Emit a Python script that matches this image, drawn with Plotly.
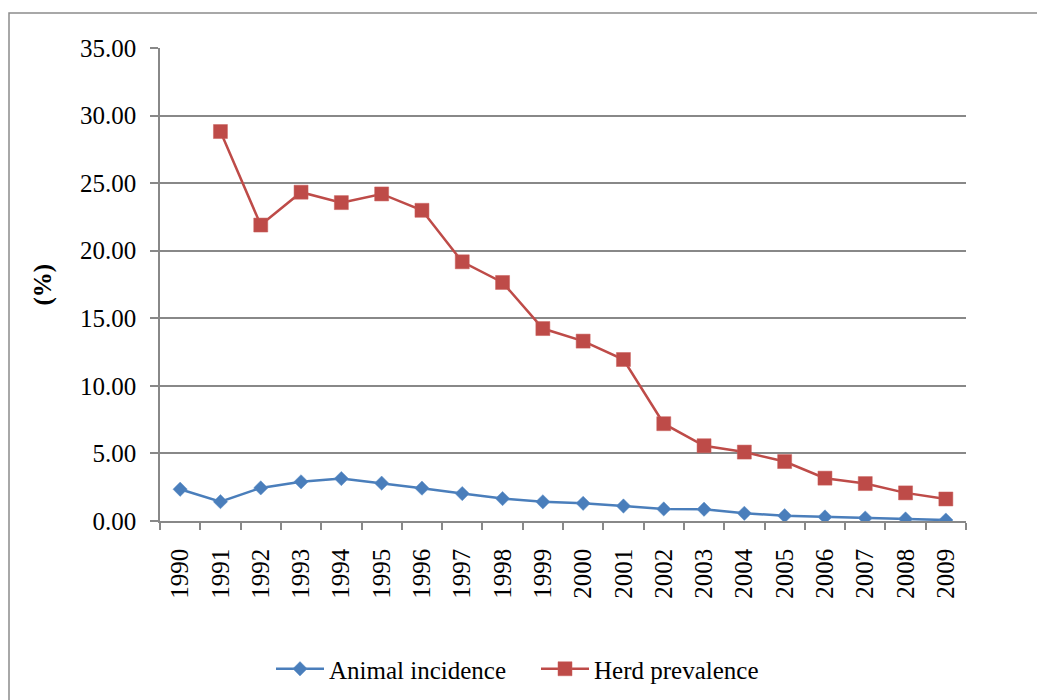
import plotly.graph_objects as go

years = [str(y) for y in range(1990, 2010)]
animal_incidence = [2.35, 1.43, 2.45, 2.90, 3.14, 2.80, 2.43, 2.03, 1.66, 1.42,
                    1.31, 1.11, 0.89, 0.87, 0.57, 0.39, 0.30, 0.22, 0.15, 0.07]
herd_years = years[1:]
herd_prevalence = [28.82, 21.90, 24.33, 23.56, 24.20, 22.99, 19.18, 17.65, 14.24,
                   13.31, 11.95, 7.20, 5.57, 5.10, 4.40, 3.17, 2.77, 2.08, 1.63]
y_ticks = [0, 5, 10, 15, 20, 25, 30, 35]

W, H = 1037, 700
L, R, T, B = 160, 966, 48, 521
pw, ph = R - L, B - T

def px(x):
    return (x - L) / pw

def py(y):
    return (B - y) / ph

FONT = "Liberation Serif, Times New Roman, serif"
GRID = "#888888"

fig = go.Figure()
fig.add_trace(go.Scatter(
    x=years, y=animal_incidence, name="Animal incidence", mode="lines+markers",
    line=dict(color="#4A7EBB", width=2.5),
    marker=dict(symbol="diamond", size=11, color="#4A7EBB",
                line=dict(color="#5B8CC7", width=0.5)),
))
fig.add_trace(go.Scatter(
    x=herd_years, y=herd_prevalence, name="Herd prevalence", mode="lines+markers",
    line=dict(color="#BE4B48", width=2.5),
    marker=dict(symbol="square", size=14, color="#BE4B48",
                line=dict(color="#C95E5B", width=0.5)),
))

fig.update_layout(
    width=W, height=H,
    margin=dict(l=L, r=W - R, t=T, b=H - B, pad=0, autoexpand=False),
    paper_bgcolor="white", plot_bgcolor="white",
    font=dict(family=FONT, size=25, color="black"),
    showlegend=True,
    legend=dict(orientation="h", x=px(271), xanchor="left", y=py(669), yanchor="middle",
                font=dict(family=FONT, size=25, color="black"),
                traceorder="normal", itemwidth=48, entrywidth=202),
    xaxis=dict(
        type="category", categoryorder="array", categoryarray=years,
        range=[-0.5, 19.5], tickson="boundaries",
        showgrid=False, showline=True, linecolor=GRID, linewidth=1.5,
        ticks="outside", ticklen=7, tickcolor=GRID, tickwidth=1.5,
        tickangle=-90, tickfont=dict(family=FONT, size=25),
        ticklabelstandoff=16, automargin=False,
    ),
    yaxis=dict(
        range=[0, 35], tickvals=y_ticks, tickformat=".2f",
        showgrid=True, gridcolor=GRID, gridwidth=1.5,
        showline=True, linecolor=GRID, linewidth=1.5,
        ticks="outside", ticklen=8, tickcolor=GRID, tickwidth=1.5,
        tickfont=dict(family=FONT, size=25), zeroline=False,
        ticklabelstandoff=9, automargin=False,
    ),
    annotations=[dict(
        text="<b>(%)</b>", textangle=-90, x=px(42), y=0.5, xref="paper", yref="paper",
        xanchor="center", yanchor="middle", showarrow=False,
        font=dict(family=FONT, size=25, color="black"),
    )],
    shapes=[dict(
        type="rect", xref="paper", yref="paper",
        x0=px(9), x1=px(1060), y0=py(720), y1=py(13),
        line=dict(color="#8c8c8c", width=1.5), layer="below",
    )],
)

fig.write_html(
    "out.html",
    config={"displayModeBar": False},
    post_script="document.body.style.margin='0px';document.body.style.overflow='hidden';",
)
